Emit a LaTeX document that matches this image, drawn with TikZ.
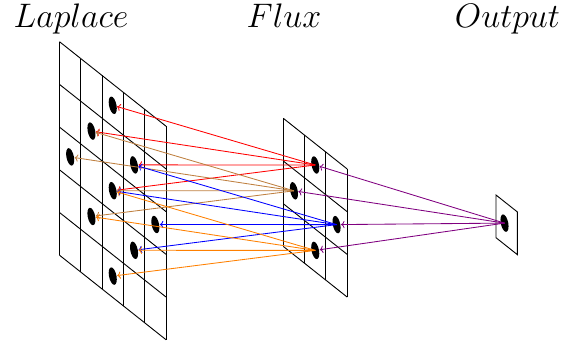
\RequirePackage{fix-cm}
\documentclass[tikz,border=0pt]{standalone}
\usepackage{tikz}
\usetikzlibrary{arrows.meta,positioning,calc}

\begin{document}
\begin{tikzpicture}[x=1pt,y=-1pt,
    every node/.style={font=\fontsize{34}{40}\selectfont},
    gridline/.style={line width=0.9pt},
    link/.style={->,line width=0.85pt,shorten >=4.5pt},
    plane/.style={x={(21.3pt,-16.9pt)},y={(0pt,-42.7pt)}}]
  \useasboundingbox (0,0) rectangle (565,345);
  \node[anchor=base] (laplace) at (71,28) {$Laplace$};
  \node[anchor=base] (flux) at (284,28) {$Flux$};
  \node[anchor=base] (output) at (507.5,28) {$Output$};
  % Laplace plane 5x5
  \begin{scope}[shift={(59.5,41.7)},plane]
    \foreach \i in {0,...,5}{\draw[gridline] (\i,0)--(\i,5); \draw[gridline] (0,\i)--(5,\i);}
    \foreach \p in {0,1,2}
      \foreach \q in {0,1,2}{
        \coordinate (lap\p\q) at ({2.5+\p-\q},{0.5+\p+\q});
        \fill (lap\p\q) circle [radius=0.19];}
  \end{scope}
  % Flux plane 3x3
  \begin{scope}[shift={(283.3,118.3)},plane]
    \foreach \i in {0,...,3}{\draw[gridline] (\i,0)--(\i,3); \draw[gridline] (0,\i)--(3,\i);}
    \foreach \a in {0,1}
      \foreach \b in {0,1}{
        \coordinate (flux\a\b) at ({1.5+\a-\b},{0.5+\a+\b});
        \fill (flux\a\b) circle [radius=0.19];}
  \end{scope}
  % Output plane 1x1
  \begin{scope}[shift={(496,195)},plane]
    \draw[gridline] (0,0)--(1,0)--(1,1)--(0,1)--cycle;
    \coordinate (out) at (0.4,0.5);
    \fill (out) circle [radius=0.19];
  \end{scope}
  \foreach \a/\b/\col in {0/0/red,0/1/brown,1/0/blue,1/1/orange}
    \foreach \i in {0,1}
      \foreach \j in {0,1}{
        \pgfmathtruncatemacro\p{\a+\i}
        \pgfmathtruncatemacro\q{\b+\j}
        \draw[link,\col] (flux\a\b)--(lap\p\q);}
  \foreach \a/\b in {0/0,0/1,1/0,1/1}{\draw[link,violet] (out)--(flux\a\b);}
\end{tikzpicture}
\end{document}
